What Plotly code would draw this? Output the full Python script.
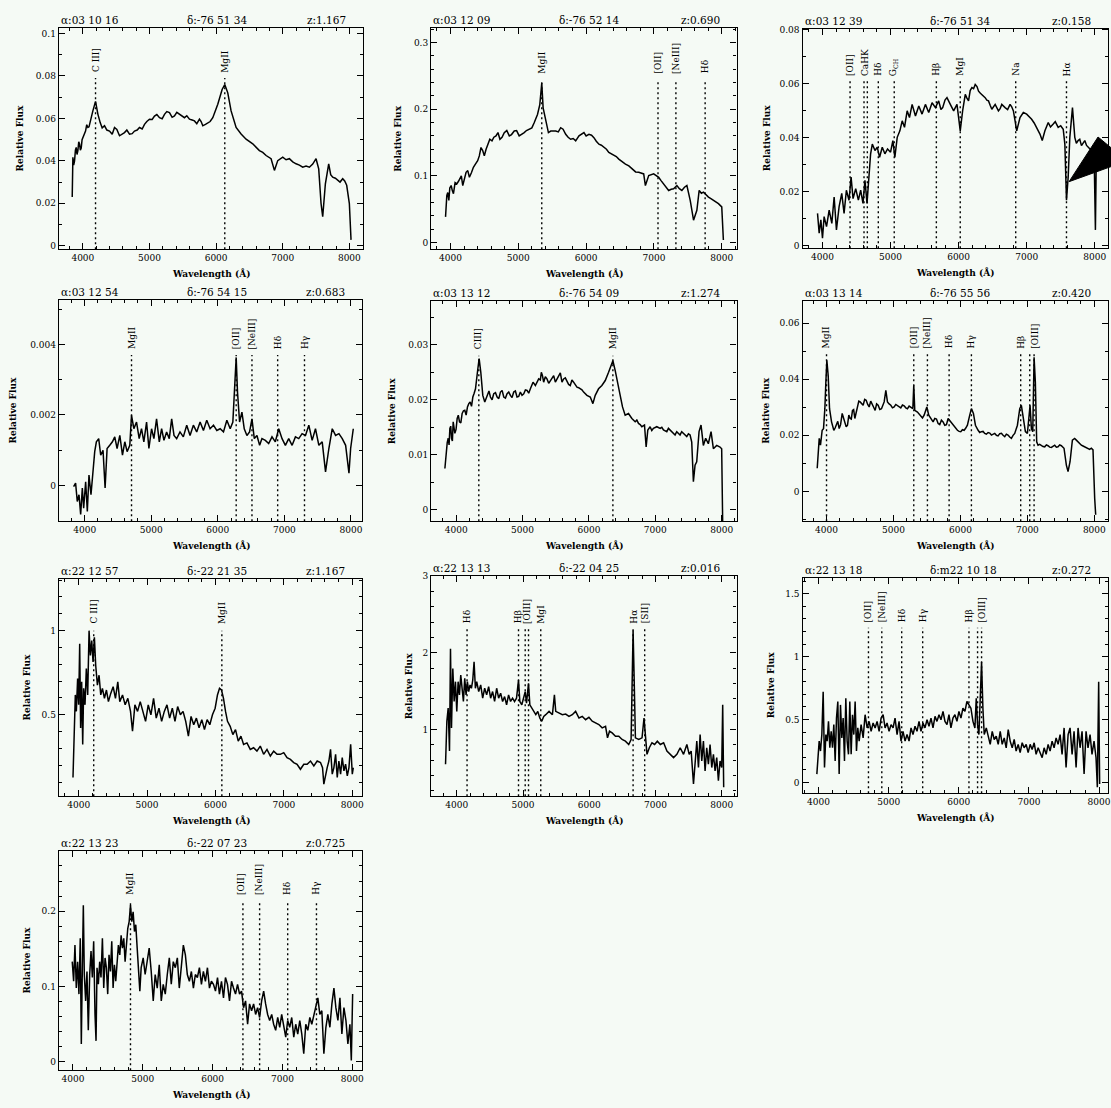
import plotly.graph_objects as go

W, H = 1111, 1108
BG = "#f5faf5"

# ------------------------------------------------------------------ data
p1_header = ["α:03 10 16", "δ:-76 51 34", "z:1.167"]
p1_spectrum = [(3840,0.023),(3850,0.0417),(3875,0.040),(3900,0.0463),(3925,0.0448),(3950,0.048),(3975,0.046),(4000,0.051),
    (4040,0.054),(4075,0.0557),(4110,0.0588),(4150,0.0635),(4190,0.068),(4225,0.062),(4260,0.058),(4325,0.0565),
    (4400,0.054),(4475,0.0557),(4550,0.0518),(4625,0.0533),(4700,0.0526),(4775,0.054),(4850,0.0557),(4925,0.0572),
    (5000,0.0596),(5075,0.0611),(5150,0.0603),(5225,0.0619),(5300,0.0627),(5375,0.0611),(5450,0.0619),(5525,0.0603),
    (5600,0.0596),(5675,0.0588),(5750,0.0596),(5800,0.0565),(5875,0.058),(5950,0.0603),(6025,0.0666),(6090,0.0736),
    (6130,0.0759),(6175,0.072),(6225,0.0635),(6300,0.0557),(6375,0.0526),(6450,0.0502),(6550,0.048),(6650,0.0448),
    (6750,0.0425),(6825,0.041),(6875,0.0355),(6925,0.0401),(7000,0.0417),(7100,0.041),(7200,0.0386),(7300,0.037),
    (7400,0.037),(7500,0.041),(7540,0.0362),(7575,0.0199),(7600,0.0137),(7640,0.0292),(7690,0.0386),(7750,0.0323),
    (7825,0.0308),(7900,0.0316),(7960,0.0285),(8000,0.0199),(8025,0.0028),
    (3862,0.038),(3888,0.045),(3912,0.043),(3938,0.049),(3962,0.045),(3988,0.050),(4020,0.052),(4058,0.057),
    (4092,0.056),(4130,0.061),(4290,0.0555),(4360,0.0545),(4440,0.0525),(4510,0.0548),(4590,0.0525),(4660,0.0545),
    (4740,0.0528),(4815,0.0545),(4890,0.055),(4960,0.0585),(5040,0.0595),(5110,0.0618),(5190,0.0598),(5260,0.0632),
    (5340,0.0605),(5410,0.0628),(5490,0.0608),(5560,0.0612),(5640,0.0592),(5710,0.0575),(5775,0.0585),(5840,0.0572),
    (5910,0.0585),(6700,0.0440),(6790,0.0418),(7050,0.0405),(7150,0.0395),(7250,0.0380),(7350,0.0375),(7450,0.0385),
    (7720,0.0335),(7790,0.0318),(7860,0.0300),(7930,0.0305)]
p1_line_waves = [4190, 6130]
p1_labels = [(4190, "C III]"), (6130, "MgII")]

p2_header = ["α:03 12 09", "δ:-76 52 14", "z:0.690"]
p2_spectrum = [(3927,0.0386),(3946,0.0708),(3976,0.0634),(4010,0.0856),(4044,0.0733),(4093,0.088),(4142,0.098),(4181,0.0856),
    (4230,0.1054),(4279,0.098),(4338,0.1129),(4401,0.1228),(4450,0.1426),(4499,0.1302),(4548,0.1475),(4612,0.1525),
    (4671,0.16),(4729,0.155),(4793,0.1649),(4867,0.16),(4940,0.1673),(5013,0.16),(5087,0.1649),(5160,0.1698),
    (5234,0.1797),(5283,0.1921),(5317,0.2069),(5346,0.2391),(5366,0.202),(5405,0.1847),(5444,0.1649),(5479,0.1673),
    (5552,0.1673),(5625,0.1723),(5699,0.1624),(5772,0.155),(5846,0.1525),(5895,0.16),(5968,0.1649),(6042,0.1624),
    (6115,0.1574),(6189,0.1475),(6262,0.1426),(6335,0.1351),(6409,0.1302),(6482,0.1252),(6580,0.1178),(6678,0.1104),
    (6776,0.1054),(6849,0.103),(6874,0.0856),(6923,0.1005),(6996,0.103),(7070,0.098),(7143,0.088),(7217,0.0782),
    (7290,0.0807),(7339,0.0856),(7412,0.0782),(7486,0.0856),(7535,0.0634),(7584,0.0337),(7633,0.0485),(7667,0.0782),
    (7731,0.0757),(7804,0.0683),(7878,0.0634),(7951,0.0584),(8000,0.0535),(8024,0.004),
    (3960,0.075),(3990,0.082),(4027,0.078),(4068,0.090),(4118,0.092),(4160,0.100),(4205,0.095),(4255,0.108),
    (4310,0.105),(4370,0.118),(4425,0.130),(4475,0.138),(4525,0.140),(4580,0.155),(4640,0.158),(4700,0.165),
    (4760,0.158),(4830,0.168),(4900,0.162),(4975,0.168),(5050,0.162),(5120,0.168),(5200,0.172),(5590,0.1660),
    (5660,0.1700),(5735,0.1580),(5810,0.1560),(6000,0.1600),(6080,0.1610),(6150,0.1520),(6225,0.1460),(6300,0.1400),
    (6370,0.1330),(6445,0.1290),(6530,0.1210),(6630,0.1150),(6730,0.1060),(7105,0.0930),(7180,0.0840),(7255,0.0800),
    (7375,0.0810),(7450,0.0830),(7700,0.0740),(7770,0.0710),(7840,0.0660),(7915,0.0610)]
p2_line_waves = [5346, 7060, 7324, 7755]
p2_labels = [(5346, "MgII"), (7060, "[OII]"), (7324, "[NeIII]"), (7755, "Hδ")]

p3_header = ["α:03 12 39", "δ:-76 51 34", "z:0.158"]
p3_spectrum = [(3927,0.012),(3951,0.0047),(3976,0.0096),(4000,0.0028),(4024,0.0108),(4059,0.0071),(4098,0.0132),(4137,0.0083),
    (4171,0.0181),(4205,0.0059),(4244,0.0145),(4283,0.0194),(4317,0.012),(4351,0.0206),(4390,0.0169),(4420,0.0255),
    (4449,0.0175),(4488,0.0212),(4527,0.0169),(4561,0.0206),(4595,0.0157),(4624,0.0243),(4654,0.0157),(4683,0.0279),
    (4707,0.0341),(4732,0.0377),(4771,0.0353),(4805,0.0365),(4839,0.0328),(4878,0.0365),(4917,0.0341),(4956,0.0359),
    (5000,0.0347),(5034,0.039),(5063,0.0328),(5098,0.0402),(5137,0.0426),(5171,0.0463),(5205,0.0439),(5244,0.05),
    (5278,0.0475),(5317,0.0524),(5366,0.0481),(5415,0.0518),(5463,0.0488),(5512,0.0524),(5561,0.0494),(5610,0.053),
    (5659,0.0512),(5707,0.0537),(5766,0.0512),(5829,0.0549),(5878,0.0524),(5927,0.05),(5976,0.0524),(6024,0.0426),
    (6059,0.05),(6098,0.0561),(6146,0.0537),(6195,0.0586),(6244,0.0598),(6293,0.0573),(6341,0.0561),(6390,0.0549),
    (6439,0.0537),(6488,0.0506),(6537,0.0524),(6585,0.05),(6634,0.0524),(6683,0.0512),(6756,0.0524),(6805,0.05),
    (6854,0.0426),(6902,0.0475),(6951,0.0494),(7000,0.0488),(7073,0.0469),(7146,0.0439),(7195,0.0414),(7229,0.039),
    (7268,0.0426),(7317,0.0457),(7390,0.0451),(7463,0.0439),(7537,0.0432),(7561,0.0377),(7585,0.0169),(7610,0.0255),
    (7634,0.0402),(7673,0.0512),(7707,0.0402),(7756,0.039),(7805,0.0371),(7854,0.039),(7902,0.0365),(7951,0.0353),
    (7990,0.0353),(8010,0.0059),(8024,0.0353),(8073,0.0341),(8122,0.0353),
    (5590,0.0515),(5685,0.0525),(5740,0.0505),(5800,0.0540),(6120,0.0548),(6170,0.0575),(6220,0.0582),(6270,0.0590),
    (6320,0.0565),(6415,0.0540),(6465,0.0520),(6560,0.0512),(6610,0.0508),(6720,0.0505),(6780,0.0515),(7035,0.0480),
    (7110,0.0455),(7350,0.0440),(7420,0.0460),(7500,0.0445),(7730,0.0380),(7780,0.0395),(7830,0.0380),(7880,0.0372)]
p3_line_waves = [4405, 4610, 4659, 4820, 5054, 5673, 6024, 6839, 7585]
p3_labels = [(4405, "[OII]"), (4634, "CaHK"), (4820, "Hδ"), (5054, "G<sub>CH</sub>"), (5673, "Hβ"),
             (6024, "MgI"), (6839, "Na"), (7585, "Hα")]

p4_header = ["α:03 12 54", "δ:-76 54 15", "z:0.683"]
p4_spectrum = [(3834,-0.00003),(3864,0.00007),(3889,-0.00045),(3915,-0.00026),(3940,-0.00082),(3965,-0.00007),(3985,-0.00064),
    (4015,0.00011),(4040,-0.00073),(4065,0.0003),(4095,-0.00026),(4126,0.00039),(4151,0.00096),(4176,0.00124),(4211,0.00133),
    (4241,0.00086),(4276,0.001),(4307,-0.00007),(4337,0.00105),(4377,0.00114),(4417,0.00124),(4452,0.00138),(4487,0.00105),
    (4528,0.00142),(4568,0.00086),(4603,0.00124),(4638,0.00096),(4678,0.00114),(4704,0.00199),(4739,0.00161),(4779,0.0018),
    (4819,0.00133),(4854,0.00161),(4889,0.00124),(4930,0.0018),(4965,0.00105),(5005,0.00161),(5040,0.00133),(5080,0.00189),
    (5121,0.00124),(5156,0.00161),(5191,0.00128),(5231,0.00152),(5271,0.00133),(5307,0.00189),(5342,0.00142),(5382,0.00133),
    (5432,0.00152),(5482,0.00138),(5533,0.00171),(5583,0.00142),(5633,0.00171),(5683,0.00152),(5734,0.0018),(5784,0.00156),
    (5834,0.00185),(5884,0.00161),(5935,0.00171),(5985,0.00156),(6035,0.00161),(6085,0.00152),(6136,0.00185),(6186,0.00161),
    (6226,0.0018),(6256,0.00292),(6276,0.00363),(6296,0.00264),(6327,0.0018),(6362,0.00208),(6397,0.00161),(6437,0.00142),
    (6477,0.00152),(6513,0.00189),(6548,0.00133),(6588,0.00142),(6628,0.00114),(6663,0.00133),(6714,0.00128),(6764,0.00119),
    (6814,0.00138),(6864,0.00124),(6915,0.00161),(6965,0.00133),(7015,0.00114),(7065,0.00133),(7116,0.00114),(7166,0.00138),
    (7216,0.00133),(7266,0.00147),(7317,0.00142),(7367,0.00171),(7417,0.00128),(7467,0.00161),(7518,0.00114),(7568,0.00124),
    (7618,0.00039),(7668,0.00105),(7719,0.00161),(7769,0.00142),(7819,0.00147),(7869,0.00133),(7920,0.00114),(7970,0.00035),
    (7995,0.00105),(8035,0.00161)]
p4_line_waves = [4704, 6276, 6513, 6899, 7302]
p4_labels = [(4704, "MgII"), (6276, "[OII]"), (6513, "[NeIII]"), (6899, "Hδ"), (7302, "Hγ")]

p5_header = ["α:03 13 12", "δ:-76 54 09", "z:1.274"]
p5_spectrum = [(3830,0.0075),(3850,0.0111),(3880,0.013),(3905,0.0148),(3930,0.013),(3955,0.016),(3980,0.0139),(4015,0.0166),
    (4050,0.016),(4090,0.0175),(4130,0.0181),(4170,0.0187),(4211,0.0196),(4251,0.0205),(4291,0.022),(4326,0.0256),
    (4346,0.0275),(4371,0.025),(4401,0.0208),(4431,0.0196),(4471,0.0211),(4516,0.0205),(4566,0.0211),(4617,0.0205),
    (4667,0.0214),(4717,0.0205),(4767,0.0211),(4817,0.0208),(4867,0.0214),(4917,0.0205),(4967,0.0214),(5018,0.0211),
    (5068,0.0217),(5118,0.022),(5158,0.0232),(5193,0.0226),(5243,0.0238),(5283,0.025),(5318,0.0232),(5368,0.0238),
    (5419,0.0235),(5469,0.0244),(5519,0.0238),(5569,0.0249),(5619,0.0238),(5669,0.0235),(5719,0.0226),(5769,0.0232),
    (5820,0.0223),(5870,0.022),(5920,0.0214),(5970,0.0208),(6020,0.0205),(6060,0.0193),(6095,0.0208),(6145,0.022),
    (6195,0.0226),(6246,0.0235),(6296,0.025),(6336,0.0265),(6361,0.0271),(6396,0.0253),(6436,0.0232),(6471,0.0208),
    (6506,0.0187),(6546,0.0172),(6596,0.0175),(6647,0.0166),(6697,0.016),(6747,0.0157),(6797,0.0151),(6837,0.0154),
    (6862,0.0114),(6887,0.0145),(6922,0.0151),(6972,0.0148),(7023,0.0151),(7073,0.0148),(7123,0.0145),(7173,0.0142),
    (7223,0.0145),(7273,0.0139),(7323,0.0142),(7373,0.0136),(7424,0.0139),(7474,0.0133),(7524,0.0136),(7549,0.0123),
    (7574,0.0051),(7599,0.0081),(7624,0.0087),(7659,0.0142),(7689,0.0154),(7724,0.0117),(7759,0.013),(7799,0.012),
    (7840,0.0142),(7875,0.0111),(7925,0.0117),(7975,0.0114),(8000,0.0111),(8015,-0.0021),
    (3865,0.0122),(3893,0.0118),(3918,0.0152),(3943,0.0125),(3968,0.0150),(3998,0.0146),(4032,0.0172),(4070,0.0158),
    (4110,0.0180),(4150,0.0172),(4190,0.0193),(4231,0.0188),(4271,0.0212),(4451,0.0202),(4494,0.0216),(4541,0.0200),
    (4592,0.0213),(4642,0.0202),(4692,0.0217),(4742,0.0203),(4792,0.0214),(4842,0.0204),(4892,0.0216),(4942,0.0206),
    (4992,0.0208),(5043,0.0218),(5093,0.0212),(5138,0.0225),(5268,0.0236),(5300,0.0244),(5343,0.0242),(5394,0.0230),
    (5444,0.0240),(5494,0.0232),(5544,0.0242),(5594,0.0232),(5644,0.0240),(5694,0.0228),(5744,0.0236),(5795,0.0226),
    (5845,0.0222),(5895,0.0218),(5945,0.0210),(6722,0.0163),(6772,0.0155),(6947,0.0144),(7098,0.0150),(7198,0.0148),
    (7298,0.0136),(7398,0.0142),(7499,0.0138)]
p5_line_waves = [4341, 6361]
p5_labels = [(4341, "CIII]"), (6361, "MgII")]

p6_header = ["α:03 13 14", "δ:-76 55 56", "z:0.420"]
p6_spectrum = [(3861,0.0083),(3876,0.013),(3891,0.0189),(3910,0.0165),(3935,0.0218),(3955,0.0224),(3975,0.0295),(3990,0.039),
    (4005,0.0467),(4025,0.0413),(4045,0.0295),(4075,0.0248),(4109,0.0218),(4149,0.0242),(4189,0.0224),(4234,0.0278),
    (4274,0.0248),(4313,0.0236),(4353,0.026),(4388,0.0289),(4423,0.026),(4463,0.0307),(4502,0.0319),(4547,0.0307),
    (4592,0.0325),(4637,0.0301),(4682,0.0313),(4726,0.0289),(4771,0.0307),(4821,0.0295),(4861,0.0319),(4886,0.036),
    (4910,0.0319),(4960,0.0307),(5010,0.0301),(5060,0.0305),(5109,0.0298),(5159,0.0305),(5209,0.0295),(5259,0.0301),
    (5289,0.0295),(5303,0.0378),(5318,0.0289),(5358,0.0283),(5408,0.0266),(5458,0.0272),(5498,0.0301),(5527,0.0272),
    (5567,0.0254),(5617,0.026),(5667,0.0242),(5716,0.0254),(5766,0.0236),(5816,0.026),(5856,0.0248),(5905,0.023),
    (5955,0.0218),(6005,0.0213),(6055,0.0218),(6104,0.0236),(6139,0.0272),(6164,0.0295),(6194,0.0278),(6224,0.0236),
    (6264,0.0218),(6313,0.0213),(6363,0.0207),(6413,0.021),(6463,0.0201),(6512,0.0207),(6562,0.0198),(6612,0.0207),
    (6662,0.0195),(6711,0.0201),(6761,0.0189),(6811,0.0207),(6851,0.0236),(6886,0.0295),(6910,0.0307),(6940,0.026),
    (6970,0.0213),(7000,0.0207),(7025,0.0272),(7040,0.0307),(7060,0.0224),(7080,0.0213),(7100,0.0478),(7119,0.039),
    (7139,0.0177),(7159,0.0165),(7209,0.0163),(7259,0.0159),(7308,0.0163),(7358,0.0157),(7408,0.0165),(7458,0.0159),
    (7507,0.0163),(7547,0.0154),(7582,0.0094),(7607,0.0071),(7637,0.0106),(7672,0.0183),(7706,0.0189),(7756,0.0177),
    (7806,0.0165),(7856,0.0159),(7905,0.0154),(7955,0.0154),(7980,0.0148),(8005,-0.0024),(8020,-0.0083),
    (4092,0.0232),(4128,0.0226),(4168,0.0250),(4210,0.0238),(4254,0.0262),(4294,0.0230),(4333,0.0272),(4370,0.0258),
    (4405,0.0292),(4443,0.0284),(4482,0.0322),(4525,0.0312),(4570,0.0328),(4615,0.0310),(4660,0.0322),(4704,0.0300),
    (4748,0.0312),(4796,0.0292),(4935,0.0312),(4985,0.0298),(5035,0.0310),(5085,0.0302),(5134,0.0308),(5184,0.0298),
    (5234,0.0304),(5383,0.0276),(5433,0.0262),(5592,0.0248),(5642,0.0258),(5691,0.0238),(5741,0.0248),(5791,0.0238),
    (5930,0.0226),(5980,0.0214),(6030,0.0220),(6080,0.0226),(6288,0.0210),(6338,0.0214),(6388,0.0204),(6438,0.0208),
    (6488,0.0204),(6537,0.0200),(6587,0.0206),(6637,0.0200),(6686,0.0204),(6736,0.0194),(6786,0.0200),(7184,0.0168),
    (7234,0.0160),(7284,0.0166),(7333,0.0158),(7383,0.0162),(7433,0.0158),(7483,0.0166),(7731,0.0183),(7781,0.0170),
    (7831,0.0162),(7880,0.0157),(7930,0.0150)]
p6_line_waves = [4000, 5303, 5507, 5831, 6164, 6900, 7035, 7100]
p6_labels = [(4000, "MgII"), (5303, "[OII]"), (5507, "[NeIII]"), (5831, "Hδ"), (6164, "Hγ"), (6900, "Hβ"), (7110, "[OIII]")]

p7_header = ["α:22 12 57", "δ:-22 21 35", "z:1.167"]
p7_spectrum = [(3917,0.127),(3932,0.343),(3951,0.618),(3966,0.52),(3985,0.716),(4000,0.559),(4015,0.922),(4029,0.422),
    (4044,0.696),(4059,0.324),(4073,0.657),(4093,0.559),(4112,0.775),(4132,0.618),(4152,1.0),(4171,0.853),
    (4191,0.941),(4210,0.814),(4230,0.961),(4249,0.794),(4274,0.676),(4298,0.735),(4323,0.618),(4347,0.657),
    (4377,0.598),(4406,0.647),(4435,0.578),(4469,0.627),(4504,0.667),(4538,0.598),(4572,0.696),(4601,0.578),
    (4641,0.618),(4680,0.559),(4719,0.598),(4758,0.52),(4787,0.402),(4822,0.559),(4861,0.52),(4900,0.578),
    (4939,0.52),(4978,0.461),(5017,0.559),(5056,0.5),(5095,0.598),(5134,0.48),(5174,0.539),(5213,0.461),
    (5252,0.52),(5291,0.559),(5330,0.48),(5369,0.539),(5408,0.461),(5447,0.549),(5487,0.5),(5526,0.52),
    (5565,0.461),(5604,0.373),(5643,0.49),(5682,0.441),(5721,0.48),(5760,0.422),(5800,0.471),(5839,0.412),
    (5878,0.471),(5917,0.441),(5956,0.5),(5995,0.539),(6029,0.618),(6059,0.657),(6088,0.647),(6117,0.598),
    (6147,0.52),(6176,0.461),(6215,0.431),(6254,0.382),(6293,0.412),(6333,0.343),(6372,0.373),(6411,0.324),
    (6460,0.333),(6509,0.294),(6557,0.304),(6606,0.284),(6655,0.314),(6704,0.265),(6753,0.294),(6802,0.255),
    (6851,0.284),(6900,0.265),(6949,0.265),(6998,0.275),(7046,0.245),(7095,0.235),(7144,0.216),(7193,0.206),
    (7242,0.176),(7291,0.206),(7340,0.206),(7389,0.225),(7438,0.196),(7487,0.225),(7535,0.216),(7565,0.186),
    (7584,0.088),(7609,0.147),(7633,0.186),(7658,0.225),(7682,0.294),(7707,0.147),(7731,0.186),(7756,0.265),
    (7780,0.127),(7804,0.225),(7829,0.147),(7853,0.245),(7878,0.167),(7902,0.206),(7927,0.137),(7951,0.186),
    (7976,0.324),(8000,0.147),(8015,0.186)]
p7_line_waves = [4220, 6093]
p7_labels = [(4220, "C III]"), (6093, "MgII")]

p8_header = ["α:22 13 13", "δ:-22 04 25", "z:0.016"]
p8_spectrum = [(3830,0.548),(3850,1.108),(3870,1.28),(3890,0.72),(3905,2.054),(3920,1.022),(3940,1.796),(3960,1.366),
    (3980,1.624),(4000,1.237),(4020,1.624),(4040,1.452),(4060,1.71),(4080,1.538),(4100,1.366),(4120,1.667),
    (4140,1.452),(4160,1.624),(4180,1.495),(4200,1.581),(4221,1.538),(4241,1.645),(4261,1.882),(4281,1.538),
    (4301,1.624),(4331,1.495),(4361,1.581),(4391,1.409),(4421,1.538),(4451,1.452),(4481,1.559),(4511,1.409),
    (4541,1.495),(4571,1.366),(4602,1.538),(4632,1.409),(4662,1.473),(4692,1.366),(4722,1.43),(4752,1.323),
    (4782,1.452),(4812,1.366),(4842,1.409),(4872,1.366),(4902,1.409),(4932,1.645),(4952,1.366),(4982,1.323),
    (5013,1.409),(5033,1.495),(5053,1.344),(5083,1.602),(5103,1.323),(5133,1.28),(5163,1.237),(5193,1.194),
    (5223,1.237),(5253,1.151),(5283,1.108),(5313,1.172),(5343,1.194),(5393,1.237),(5444,1.194),(5474,1.452),
    (5494,1.237),(5544,1.215),(5594,1.194),(5644,1.202),(5694,1.172),(5744,1.194),(5794,1.237),(5845,1.151),
    (5895,1.172),(5945,1.129),(5995,1.159),(6045,1.108),(6095,1.086),(6145,1.065),(6195,1.022),(6246,1.043),
    (6276,0.892),(6306,0.978),(6346,0.957),(6396,0.914),(6446,0.914),(6496,0.871),(6546,0.849),(6596,0.806),
    (6632,0.871),(6647,1.753),(6662,2.29),(6677,1.71),(6697,0.892),(6747,0.871),(6797,0.892),(6827,1.151),
    (6847,0.978),(6872,0.677),(6907,0.763),(6947,0.828),(6987,0.806),(7028,0.849),(7073,0.806),(7123,0.828),
    (7173,0.72),(7223,0.677),(7273,0.634),(7323,0.677),(7373,0.763),(7424,0.677),(7474,0.806),(7509,0.677),
    (7539,0.72),(7574,0.29),(7599,0.591),(7624,0.849),(7649,0.505),(7674,0.935),(7699,0.591),(7724,0.849),
    (7749,0.462),(7774,0.763),(7799,0.548),(7824,0.806),(7850,0.505),(7875,0.677),(7900,0.462),(7925,0.634),
    (7950,0.333),(7975,0.591),(8000,0.505),(8015,1.323),(8030,0.247)]
p8_line_waves = [4155, 4932, 5033, 5083, 5268, 6662, 6837]
p8_labels = [(4155, "Hδ"), (4925, "Hβ"), (5058, "[OIII]"), (5268, "MgI"), (6662, "Hα"), (6837, "[SII]")]

p9_header = ["α:22 13 18", "δ:m22 10 18", "z:0.272"]
p9_spectrum = [(3976,0.066),(3991,0.223),(4009,0.328),(4028,0.249),(4047,0.38),(4066,0.721),(4085,0.118),(4104,0.38),
    (4123,0.328),(4142,0.485),(4161,0.275),(4180,0.406),(4199,0.275),(4218,0.459),(4237,0.17),(4256,0.511),
    (4275,0.643),(4294,0.066),(4313,0.616),(4332,0.354),(4351,0.511),(4370,0.17),(4389,0.669),(4408,0.328),
    (4427,0.223),(4446,0.643),(4465,0.223),(4484,0.538),(4503,0.38),(4522,0.643),(4541,0.249),(4560,0.433),
    (4579,0.328),(4607,0.459),(4636,0.354),(4664,0.538),(4693,0.433),(4721,0.485),(4750,0.406),(4778,0.472),
    (4807,0.433),(4835,0.485),(4864,0.406),(4892,0.511),(4921,0.538),(4949,0.433),(4977,0.472),(5006,0.406),
    (5034,0.459),(5063,0.433),(5091,0.511),(5120,0.38),(5148,0.485),(5176,0.328),(5205,0.406),(5234,0.328),
    (5262,0.38),(5291,0.328),(5319,0.433),(5347,0.38),(5376,0.446),(5404,0.406),(5433,0.485),(5461,0.406),
    (5490,0.472),(5518,0.433),(5547,0.498),(5575,0.446),(5604,0.511),(5632,0.433),(5661,0.525),(5689,0.485),
    (5718,0.538),(5746,0.498),(5775,0.564),(5803,0.485),(5832,0.459),(5860,0.538),(5888,0.433),(5917,0.511),
    (5945,0.538),(5974,0.485),(6002,0.564),(6031,0.511),(6059,0.59),(6088,0.564),(6116,0.643),(6145,0.616),
    (6173,0.59),(6202,0.485),(6230,0.433),(6249,0.669),(6268,0.459),(6287,0.38),(6306,0.643),(6325,0.957),
    (6344,0.59),(6363,0.38),(6392,0.433),(6420,0.354),(6448,0.302),(6477,0.406),(6505,0.341),(6534,0.367),
    (6562,0.302),(6591,0.406),(6619,0.302),(6648,0.354),(6676,0.275),(6705,0.42),(6733,0.328),(6762,0.275),
    (6790,0.341),(6818,0.249),(6847,0.302),(6875,0.236),(6904,0.315),(6932,0.275),(6961,0.302),(6989,0.236),
    (7018,0.302),(7046,0.262),(7075,0.315),(7103,0.223),(7132,0.275),(7160,0.236),(7189,0.197),(7217,0.275),
    (7246,0.223),(7274,0.302),(7302,0.249),(7331,0.328),(7359,0.275),(7388,0.354),(7416,0.302),(7445,0.38),
    (7473,0.223),(7502,0.433),(7530,0.118),(7559,0.38),(7587,0.433),(7616,0.223),(7644,0.406),(7673,0.118),
    (7701,0.433),(7730,0.275),(7758,0.406),(7787,0.066),(7815,0.406),(7843,0.275),(7872,0.38),(7900,0.223),
    (7929,0.328),(7957,0.197),(7976,-0.039),(7995,0.8),(8009,-0.013)]
p9_line_waves = [4712, 4902, 5186, 5485, 6145, 6268, 6325]
p9_labels = [(4712, "[OII]"), (4902, "[NeIII]"), (5186, "Hδ"), (5485, "Hγ"), (6145, "Hβ"), (6330, "[OIII]")]

p10_header = ["α:22 13 23", "δ:-22 07 23", "z:0.725"]
p10_spectrum = [(3990,0.133),(4010,0.107),(4029,0.155),(4048,0.098),(4067,0.133),(4086,0.09),(4105,0.164),(4120,0.024),
    (4134,0.12),(4149,0.208),(4163,0.116),(4182,0.081),(4201,0.12),(4220,0.042),(4240,0.116),(4259,0.147),
    (4278,0.112),(4297,0.16),(4316,0.063),(4331,0.028),(4345,0.125),(4364,0.103),(4383,0.133),(4402,0.112),
    (4422,0.164),(4441,0.098),(4460,0.138),(4479,0.125),(4498,0.09),(4517,0.142),(4537,0.12),(4556,0.16),
    (4575,0.098),(4594,0.129),(4613,0.107),(4632,0.133),(4651,0.155),(4671,0.142),(4690,0.168),(4709,0.151),
    (4728,0.164),(4747,0.133),(4766,0.16),(4785,0.177),(4805,0.186),(4824,0.208),(4843,0.186),(4862,0.199),
    (4881,0.173),(4900,0.182),(4920,0.151),(4939,0.116),(4958,0.094),(4977,0.125),(5006,0.138),(5034,0.116),
    (5063,0.133),(5092,0.151),(5121,0.12),(5150,0.081),(5178,0.116),(5207,0.098),(5236,0.129),(5265,0.081),
    (5293,0.103),(5322,0.09),(5351,0.116),(5380,0.138),(5408,0.103),(5437,0.133),(5466,0.125),(5495,0.138),
    (5523,0.098),(5552,0.125),(5581,0.155),(5610,0.142),(5638,0.116),(5667,0.107),(5696,0.12),(5725,0.098),
    (5753,0.116),(5782,0.112),(5811,0.125),(5840,0.103),(5868,0.12),(5897,0.107),(5926,0.125),(5955,0.098),
    (5983,0.107),(6012,0.103),(6041,0.094),(6070,0.112),(6098,0.09),(6127,0.107),(6156,0.085),(6184,0.112),
    (6213,0.103),(6242,0.081),(6271,0.107),(6299,0.098),(6328,0.09),(6357,0.103),(6386,0.09),(6414,0.094),
    (6443,0.072),(6472,0.081),(6501,0.05),(6529,0.077),(6558,0.068),(6587,0.077),(6616,0.063),(6644,0.072),
    (6673,0.059),(6702,0.081),(6731,0.094),(6759,0.077),(6788,0.063),(6817,0.055),(6846,0.063),(6874,0.05),
    (6903,0.042),(6932,0.059),(6961,0.046),(6989,0.063),(7018,0.05),(7047,0.033),(7075,0.055),(7104,0.046),
    (7133,0.059),(7162,0.033),(7190,0.05),(7219,0.037),(7248,0.055),(7277,0.037),(7305,0.011),(7334,0.05),
    (7363,0.042),(7392,0.059),(7420,0.05),(7449,0.063),(7478,0.072),(7507,0.085),(7535,0.063),(7564,0.068),
    (7593,0.011),(7622,0.046),(7650,0.063),(7679,0.046),(7708,0.077),(7737,0.098),(7765,0.072),(7794,0.055),
    (7823,0.085),(7851,0.037),(7880,0.072),(7909,0.055),(7937,0.024),(7966,0.05),(7986,0.002),(8005,0.09)]
p10_line_waves = [4824, 6434, 6673, 7075, 7487]
p10_labels = [(4824, "MgII"), (6410, "[OII]"), (6673, "[NeIII]"), (7075, "Hδ"), (7487, "Hγ")]

x_tick_values = [4000, 5000, 6000, 7000, 8000]
x_title = "Wavelength (Å)"
y_title = "Relative Flux"

# ------------------------------------------------------------------ layout per panel
# box = (left, top, right, bottom) in pixels
panels = [
    dict(head=p1_header, spec=p1_spectrum, lw=p1_line_waves, lab=p1_labels, box=(59, 23, 364, 246),
         xr=[3640, 8210], yr=[-0.0016, 0.1026], dy=0.02, mdy=0.01, laby=0.0806, ltop=0.079, ytd=39),
    dict(head=p2_header, spec=p2_spectrum, lw=p2_line_waves, lab=p2_labels, box=(432, 23, 738, 246),
         xr=[3716, 8220], yr=[-0.0099, 0.322], dy=0.1, mdy=0.02, laby=0.2505, ltop=0.245, ytd=34),
    dict(head=p3_header, spec=p3_spectrum, lw=p3_line_waves, lab=p3_labels, box=(804, 24, 1110, 245),
         xr=[3707, 8195], yr=[-0.0009, 0.0804], dy=0.02, mdy=0.01, laby=0.0622, ltop=0.061, ytd=36),
    dict(head=p4_header, spec=p4_spectrum, lw=p4_line_waves, lab=p4_labels, box=(59, 297, 363, 520),
         xr=[3613, 8171], yr=[-0.00101, 0.00526], dy=0.002, mdy=0.001, laby=0.00381, ltop=0.0037, ytd=46),
    dict(head=p5_header, spec=p5_spectrum, lw=p5_line_waves, lab=p5_labels, box=(432, 298, 738, 520),
         xr=[3624, 8226], yr=[-0.0021, 0.038], dy=0.01, mdy=0.005, laby=0.0289, ltop=0.028, ytd=39),
    dict(head=p6_header, spec=p6_spectrum, lw=p6_line_waves, lab=p6_labels, box=(804, 298, 1110, 520),
         xr=[3642, 8204], yr=[-0.0106, 0.0679], dy=0.02, mdy=0.01, laby=0.0502, ltop=0.049, ytd=37),
    dict(head=p7_header, spec=p7_spectrum, lw=p7_line_waves, lab=p7_labels, box=(59, 578, 363, 797),
         xr=[3711, 8147], yr=[0.0157, 1.308], dy=0.5, mdy=0.1, laby=1.029, ltop=1.0, ytd=32),
    dict(head=p8_header, spec=p8_spectrum, lw=p8_line_waves, lab=p8_labels, box=(432, 575, 738, 797),
         xr=[3614, 8226], yr=[0.131, 3.003], dy=1, mdy=0.2, laby=2.355, ltop=2.32, ytd=22),
    dict(head=p9_header, spec=p9_spectrum, lw=p9_line_waves, lab=p9_labels, box=(804, 577, 1110, 794),
         xr=[3772, 8128], yr=[-0.0865, 1.626], dy=0.5, mdy=0.1, laby=1.259, ltop=1.23, ytd=32),
    dict(head=p10_header, spec=p10_spectrum, lw=p10_line_waves, lab=p10_labels, box=(59, 852, 363, 1073),
         xr=[3799, 8144], yr=[-0.011, 0.28], dy=0.1, mdy=0.02, laby=0.219, ltop=0.213, ytd=32),
]

FONT = "DejaVu Serif"
fig = go.Figure()
annotations = []
shapes = []


def px(x):
    return x / W


def py(y):
    return 1 - y / H


for i, p in enumerate(panels, start=1):
    sfx = "" if i == 1 else str(i)
    xa, ya = "x" + sfx, "y" + sfx
    spec = sorted(p["spec"])
    wave = [w for w, f in spec]
    flux = [f for w, f in spec]
    fig.add_trace(go.Scatter(x=wave, y=flux, mode="lines", line=dict(color="black", width=1.5),
                             xaxis=xa, yaxis=ya, hoverinfo="skip", showlegend=False))
    L, T, R, B = p["box"]
    common = dict(showline=True, linecolor="black", linewidth=1.4, mirror="allticks", ticks="inside",
                  tickcolor="black", tickwidth=1.1, showgrid=False, zeroline=False,
                  tickfont=dict(family=FONT, size=9, color="black"))
    fig.layout["xaxis" + sfx] = dict(common, domain=[px(L), px(R)], range=p["xr"], anchor=ya,
                                     tickmode="array", tickvals=x_tick_values, ticklen=6,
                                     minor=dict(tickmode="linear", tick0=0, dtick=200, ticks="inside",
                                                ticklen=3, tickcolor="black", tickwidth=1.0))
    fig.layout["yaxis" + sfx] = dict(common, domain=[py(B), py(T)], range=p["yr"], anchor=xa,
                                     tickmode="linear", tick0=0, dtick=p["dy"], ticklen=6,
                                     minor=dict(tickmode="linear", tick0=0, dtick=p["mdy"], ticks="inside",
                                                ticklen=3, tickcolor="black", tickwidth=1.0))
    # identification lines
    for w in p["lw"]:
        shapes.append(dict(type="line", xref=xa, yref=ya, x0=w, x1=w, y0=p["yr"][0], y1=p["ltop"],
                           line=dict(color="black", width=1.4, dash="2px,3px"), layer="below"))
    for w, t in p["lab"]:
        annotations.append(dict(x=w, y=p["laby"], xref=xa, yref=ya, text=t, textangle=-90,
                                xanchor="center", yanchor="bottom", showarrow=False,
                                font=dict(family=FONT, size=9, color="black")))
    # header
    hy = py(T - 8)
    hfont = dict(family=FONT, size=10.5, color="black")
    annotations.append(dict(x=px(L), y=hy, xref="paper", yref="paper", text=p["head"][0],
                            xanchor="left", yanchor="middle", showarrow=False, font=hfont))
    annotations.append(dict(x=px(L + 126), y=hy, xref="paper", yref="paper", text=p["head"][1],
                            xanchor="left", yanchor="middle", showarrow=False, font=hfont))
    annotations.append(dict(x=px(R - 15), y=hy, xref="paper", yref="paper", text=p["head"][2],
                            xanchor="right", yanchor="middle", showarrow=False, font=hfont))
    # axis titles
    annotations.append(dict(x=px((L + R) / 2), y=py(B + 24), xref="paper", yref="paper", text="<b>" + x_title + "</b>",
                            xanchor="center", yanchor="middle", showarrow=False,
                            font=dict(family=FONT, size=9, color="black")))
    annotations.append(dict(x=px(L - p["ytd"]), y=py((T + B) / 2), xref="paper", yref="paper",
                            text="<b>" + y_title + "</b>", textangle=-90,
                            xanchor="center", yanchor="middle", showarrow=False,
                            font=dict(family=FONT, size=9, color="black")))

# black pointer arrow on the third panel
shapes.append(dict(type="path", xref="paper", yref="paper",
                   path="M {:.4f},{:.4f} L {:.4f},{:.4f} L {:.4f},{:.4f} Z".format(
                       px(1071), py(178), px(1100), py(133), px(1129), py(157)),
                   fillcolor="black", line=dict(color="black", width=1), layer="above"))

fig.update_layout(width=W, height=H, margin=dict(l=0, r=0, t=0, b=0),
                  paper_bgcolor=BG, plot_bgcolor=BG, showlegend=False,
                  annotations=annotations, shapes=shapes)

fig.write_html("out.html")
